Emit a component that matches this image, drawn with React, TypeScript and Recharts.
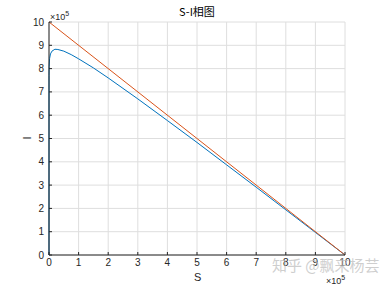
import React from "react";
import { LineChart, Line, XAxis, YAxis, CartesianGrid } from "recharts";

// S-I phase curve (units of 1e5)
const sValues = [0, 0.001, 0.005, 0.02, 0.05, 0.1, 0.2, 0.3, 0.5, 0.75, 1, 1.5, 2, 2.5, 3, 4, 5, 6, 7, 8, 9, 10];
const iValues = [0, 7.7, 8.09, 8.43, 8.63, 8.75, 8.83, 8.82, 8.75, 8.6, 8.42, 8.03, 7.6, 7.15, 6.7, 5.77, 4.83, 3.87, 2.91, 1.94, 0.97, 0];

const lineS = [0, 10];
const lineI = [10, 0];

const ticks = [0, 1, 2, 3, 4, 5, 6, 7, 8, 9, 10];

const curveData = sValues.map((s, i) => ({ s, i: iValues[i] }));
const lineData = lineS.map((s, k) => ({ s, i: lineI[k] }));

const FONT = '"Liberation Sans", Arial, sans-serif';
const AXIS = "#262626";
const tickStyle = { fontSize: 10, fill: AXIS, fontFamily: FONT };

export default function App() {
  return (
    <div style={{ position: "fixed", left: 0, top: 0, width: 382, height: 287, background: "#fff" }}>
      <LineChart width={382} height={287} data={curveData} margin={{ top: 22, right: 37, bottom: 0, left: 0 }}>
        <CartesianGrid stroke="#dedede" strokeWidth={1} xAxisId="b" yAxisId="l" />
        <XAxis
          xAxisId="b"
          dataKey="s"
          type="number"
          domain={[0, 10]}
          ticks={ticks}
          height={32}
          tickSize={-3}
          tickMargin={7}
          tick={tickStyle}
          stroke={AXIS}
          interval={0}
        />
        <XAxis
          xAxisId="t"
          orientation="top"
          type="number"
          domain={[0, 10]}
          ticks={ticks}
          height={0}
          tickSize={-3}
          tickFormatter={() => ""}
          stroke={AXIS}
          interval={0}
        />
        <YAxis
          yAxisId="l"
          type="number"
          domain={[0, 10]}
          ticks={ticks}
          width={49}
          tickSize={-3}
          tickMargin={8}
          tick={tickStyle}
          stroke={AXIS}
          interval={0}
        />
        <YAxis
          yAxisId="r"
          orientation="right"
          type="number"
          domain={[0, 10]}
          ticks={ticks}
          width={0}
          tickSize={-3}
          tickFormatter={() => ""}
          stroke={AXIS}
          interval={0}
        />
        <Line
          xAxisId="b"
          yAxisId="l"
          data={curveData}
          dataKey="i"
          type="linear"
          stroke="#0072BD"
          strokeWidth={1}
          dot={false}
          isAnimationActive={false}
        />
        <Line
          xAxisId="b"
          yAxisId="l"
          data={lineData}
          dataKey="i"
          type="linear"
          stroke="#D95319"
          strokeWidth={1}
          dot={false}
          isAnimationActive={false}
        />
      </LineChart>

      <div style={{ position: "absolute", left: 0, width: 382, top: 4, textAlign: "center", paddingLeft: 12, boxSizing: "border-box", fontSize: 11, color: "#000", fontFamily: '"Noto Sans CJK SC", sans-serif', lineHeight: "14px" }}>
        S-I相图
      </div>
      <div style={{ position: "absolute", left: 50, top: 9, fontSize: 9, color: AXIS, fontFamily: FONT, lineHeight: "10px" }}>
        ×10<sup style={{ fontSize: 7, verticalAlign: "4px" }}>5</sup>
      </div>
      <div style={{ position: "absolute", left: 326, top: 273, fontSize: 9, color: AXIS, fontFamily: FONT, lineHeight: "10px" }}>
        ×10<sup style={{ fontSize: 7, verticalAlign: "4px" }}>5</sup>
      </div>
      <div style={{ position: "absolute", left: 194, top: 271, fontSize: 11, color: AXIS, fontFamily: FONT, lineHeight: "12px" }}>
        S
      </div>
      <div style={{ position: "absolute", left: 25, top: 132, fontSize: 11, color: AXIS, fontFamily: FONT, lineHeight: "12px", transform: "rotate(-90deg)" }}>
        I
      </div>
      <div style={{ position: "absolute", left: 272, top: 256, fontSize: 15, color: "rgba(190,190,190,0.75)", fontFamily: '"Noto Sans CJK SC", sans-serif', lineHeight: "18px", whiteSpace: "nowrap" }}>
        知乎 @飘来杨芸
      </div>
    </div>
  );
}
